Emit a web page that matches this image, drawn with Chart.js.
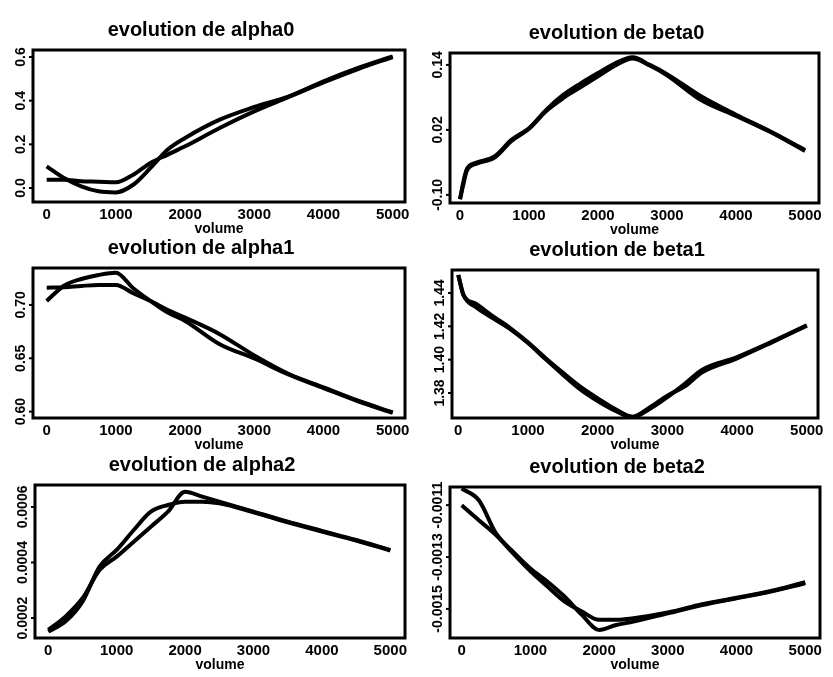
<!DOCTYPE html>
<html><head><meta charset="utf-8">
<script src="https://cdn.jsdelivr.net/npm/chart.js@4.4.1/dist/chart.umd.min.js"></script>
<style>
html,body{margin:0;padding:0;background:#fff;width:833px;height:677px;overflow:hidden;position:relative}
.p{position:absolute}
</style></head><body>
<div id="c0" class="p"><canvas></canvas></div>
<div id="c1" class="p"><canvas></canvas></div>
<div id="c2" class="p"><canvas></canvas></div>
<div id="c3" class="p"><canvas></canvas></div>
<div id="c4" class="p"><canvas></canvas></div>
<div id="c5" class="p"><canvas></canvas></div>
<script>
// ---- data ----
const xTicks = [0, 1000, 2000, 3000, 4000, 5000];
const xTitle = 'volume';

const alpha0X = [0,250,500,750,1000,1250,1500,1750,2000,2500,3000,3500,4000,4500,5000];
const alpha0A = [0.099,0.046,0.008,-0.015,-0.020,0.015,0.092,0.176,0.229,0.313,0.371,0.420,0.489,0.550,0.603];
const alpha0B = [0.038,0.038,0.031,0.029,0.026,0.061,0.115,0.153,0.191,0.275,0.351,0.417,0.484,0.545,0.600];
const alpha0YTicks = [0.0, 0.2, 0.4, 0.6];
const alpha0YLabels = ['0.0','0.2','0.4','0.6'];

const beta0X = [0,50,100,250,500,750,1000,1250,1500,1750,2000,2250,2500,2750,3000,3500,4000,4500,5000];
const beta0A = [-0.108,-0.075,-0.052,-0.040,-0.029,0.002,0.023,0.057,0.085,0.106,0.125,0.143,0.154,0.140,0.123,0.0815,0.048,0.017,-0.017];
const beta0B = [-0.108,-0.080,-0.055,-0.042,-0.031,0.000,0.022,0.055,0.079,0.099,0.119,0.139,0.152,0.139,0.121,0.0745,0.046,0.016,-0.019];
const beta0YTicks = [-0.10, 0.02, 0.14];
const beta0YLabels = ['-0.10','0.02','0.14'];

const alpha1X = [0,250,500,750,1000,1250,1500,1750,2000,2500,3000,3500,4000,4500,5000];
const alpha1A = [0.7037,0.7180,0.7243,0.7281,0.7302,0.7156,0.7037,0.6928,0.6850,0.6632,0.6498,0.6346,0.6221,0.6097,0.5988];
const alpha1B = [0.7162,0.7165,0.7178,0.7187,0.7187,0.7109,0.7037,0.6953,0.6881,0.6726,0.6526,0.6352,0.6227,0.6102,0.5993];
const alpha1YTicks = [0.60, 0.65, 0.70];
const alpha1YLabels = ['0.60','0.65','0.70'];

const beta1X = [0,75,250,500,750,1000,1250,1500,1750,2000,2250,2500,2750,3000,3250,3500,4000,4500,5000];
const beta1A = [1.4508,1.4388,1.4336,1.4260,1.4188,1.4104,1.4010,1.3922,1.3838,1.3768,1.3704,1.3658,1.3714,1.3784,1.3840,1.3924,1.4008,1.4104,1.4204];
const beta1B = [1.4508,1.4388,1.4316,1.4248,1.4182,1.4100,1.4004,1.3910,1.3822,1.3752,1.3694,1.3654,1.3706,1.3776,1.3855,1.3940,1.4016,1.4108,1.4206];
const beta1YTicks = [1.38, 1.40, 1.42, 1.44];
const beta1YLabels = ['1.38','1.40','1.42','1.44'];

const alpha2X = [0,250,500,750,1000,1250,1500,1750,2000,2250,2500,3000,3500,4000,4500,5000];
const alpha2A = [0.000157,0.000205,0.000271,0.000373,0.000421,0.000475,0.000529,0.000583,0.000655,0.000637,0.000619,0.000583,0.000547,0.000514,0.000481,0.000445];
const alpha2B = [0.000151,0.000187,0.000259,0.000385,0.000445,0.000517,0.000583,0.000607,0.000619,0.000619,0.000613,0.000581,0.000545,0.000511,0.000479,0.000443];
const alpha2YTicks = [0.0002, 0.0004, 0.0006];
const alpha2YLabels = ['0.0002','0.0004','0.0006'];

const beta2X = [0,250,500,750,1000,1250,1500,1750,2000,2250,2500,3000,3500,4000,4500,5000];
const beta2A = [-0.001036,-0.001081,-0.001209,-0.001280,-0.001344,-0.001395,-0.001453,-0.001523,-0.001581,-0.001562,-0.001549,-0.001517,-0.001485,-0.001459,-0.001433,-0.001401];
const beta2B = [-0.001100,-0.001158,-0.001215,-0.001286,-0.001354,-0.001414,-0.001472,-0.001510,-0.001542,-0.001542,-0.001536,-0.001514,-0.001482,-0.001457,-0.001431,-0.001397];
const beta2YTicks = [-0.0015, -0.0013, -0.0011];
const beta2YLabels = ['-0.0015','-0.0013','-0.0011'];

const titles = ['evolution de alpha0','evolution de beta0','evolution de alpha1','evolution de beta1','evolution de alpha2','evolution de beta2'];

// ---- layout ----
const FONT = '"Liberation Sans", Arial, sans-serif';
const panels = [
  {id:'c0', x:alpha0X, a:alpha0A, b:alpha0B, yt:alpha0YTicks, yl:alpha0YLabels, box:[33,50,372,152], xr:[-198,5178], yr:[-0.064,0.632]},
  {id:'c1', x:beta0X,  a:beta0A,  b:beta0B,  yt:beta0YTicks,  yl:beta0YLabels,  box:[450,53,369,150], xr:[-145,5203], yr:[-0.115,0.162]},
  {id:'c2', x:alpha1X, a:alpha1A, b:alpha1B, yt:alpha1YTicks, yl:alpha1YLabels, box:[33,268,372,150], xr:[-198,5178], yr:[0.594,0.7346]},
  {id:'c3', x:beta1X,  a:beta1A,  b:beta1B,  yt:beta1YTicks,  yl:beta1YLabels,  box:[452,270,366,148], xr:[-90,5161], yr:[1.365,1.4538]},
  {id:'c4', x:alpha2X, a:alpha2A, b:alpha2B, yt:alpha2YTicks, yl:alpha2YLabels, box:[35,485,370,153], xr:[-194,5215], yr:[0.000128,0.000679]},
  {id:'c5', x:beta2X,  a:beta2A,  b:beta2B,  yt:beta2YTicks,  yl:beta2YLabels,  box:[450,487,370,151], xr:[-170,5215], yr:[-0.001612,-0.00103]}
];

const framePlugin = {
  id: 'frame',
  afterDatasetsDraw(chart) {
    const {ctx, chartArea:a} = chart;
    ctx.save();
    ctx.strokeStyle = '#000';
    ctx.lineWidth = 3;
    ctx.strokeRect(a.left, a.top, a.right - a.left, a.bottom - a.top);
    ctx.restore();
  }
};
const yLabelPlugin = {
  id: 'yLabels',
  afterDraw(chart, args, opts) {
    const y = chart.scales.y, ctx = chart.ctx, a = chart.chartArea;
    ctx.save();
    ctx.font = 'bold 14px ' + FONT;
    ctx.fillStyle = '#000';
    ctx.textAlign = 'center';
    ctx.textBaseline = 'middle';
    (opts.values || []).forEach((v, i) => {
      const py = y.getPixelForValue(v);
      ctx.save();
      ctx.translate(a.left - 12, py);
      ctx.rotate(-Math.PI / 2);
      ctx.fillText(opts.labels[i], 0, 0);
      ctx.restore();
      ctx.fillRect(a.left - 4, py - 1, 4, 2);
    });
    ctx.restore();
  }
};

panels.forEach((p, k) => {
  const [pl, pt, pw, ph] = p.box;
  const div = document.getElementById(p.id);
  div.style.left = (pl - 36) + 'px';
  div.style.top = (pt - 31) + 'px';
  div.style.width = (pw + 72) + 'px';
  div.style.height = (31 + ph + 38) + 'px';
  const mk = arr => p.x.map((xv, i) => ({x: xv, y: arr[i]}));
  const ds = arr => ({data: mk(arr), borderColor:'#000', borderWidth:4, pointRadius:0, fill:false, cubicInterpolationMode:'monotone'});
  new Chart(div.querySelector('canvas'), {
    type: 'line',
    data: {datasets: [ds(p.a), ds(p.b)]},
    options: {
      responsive: true, maintainAspectRatio: false, animation: false,
      layout: {padding: {left:0, right:36, top:0, bottom:0}},
      plugins: {
        legend: {display:false}, tooltip: {enabled:false},
        title: {display:true, text: titles[k], color:'#000',
          font: {family: FONT, size: 20, weight: 'bold', lineHeight: '22px'},
          padding: {top:0, bottom:9}},
        yLabels: {values: p.yt, labels: p.yl}
      },
      scales: {
        x: {
          type: 'linear', min: p.xr[0], max: p.xr[1],
          grid: {display:false, drawTicks:false}, border: {display:false},
          afterBuildTicks: s => { s.ticks = xTicks.map(v => ({value:v})); },
          afterFit: s => { s.height = 38; },
          ticks: {color:'#000', padding:4, maxRotation:0, autoSkip:false,
            font: {family: FONT, size: 15, weight: 'bold'}, callback: v => String(v)},
          title: {display:true, text:xTitle, color:'#000', padding:{top:0, bottom:2},
            font: {family: FONT, size: 14, weight: 'bold'}}
        },
        y: {
          type: 'linear', min: p.yr[0], max: p.yr[1],
          grid: {display:false, drawTicks:false}, border: {display:false},
          afterBuildTicks: s => { s.ticks = p.yt.map(v => ({value:v})); },
          afterFit: s => { s.width = 36; },
          ticks: {display:false}
        }
      }
    },
    plugins: [framePlugin, yLabelPlugin]
  });
});
</script>
</body></html>
